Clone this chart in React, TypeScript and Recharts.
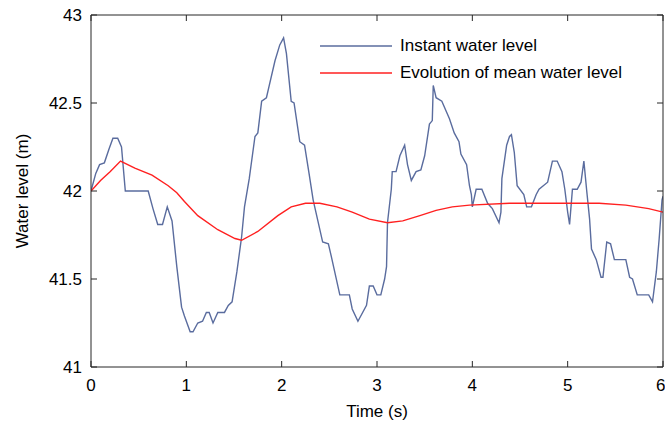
import React from 'react';
import { LineChart, Line, XAxis, YAxis, Legend, Label } from 'recharts';

// time (s) / water level (m)
const instantTime = [
  0, 0.05, 0.09, 0.14, 0.19, 0.23, 0.28, 0.32, 0.36, 0.6, 0.65, 0.7, 0.75, 0.8, 0.85, 0.9, 0.95, 0.98,
  1.04, 1.07, 1.12, 1.17, 1.21, 1.24, 1.28, 1.33, 1.4, 1.44, 1.48, 1.53, 1.58, 1.61, 1.66, 1.72, 1.75,
  1.79, 1.84, 1.87, 1.93, 1.98, 2.02, 2.05, 2.1, 2.13, 2.19, 2.24, 2.29, 2.33, 2.43, 2.49, 2.52, 2.61,
  2.71, 2.74, 2.8, 2.89, 2.92, 2.96, 3.0, 3.04, 3.08, 3.1, 3.11, 3.15, 3.16, 3.2, 3.24, 3.29, 3.32,
  3.36, 3.41, 3.46, 3.5, 3.55, 3.58, 3.59, 3.62, 3.68, 3.76, 3.81, 3.86, 3.88, 3.94, 3.97, 3.99, 4.0,
  4.04, 4.1, 4.16, 4.21, 4.28, 4.3, 4.31, 4.36, 4.39, 4.41, 4.44, 4.47, 4.54, 4.57, 4.62, 4.67, 4.7,
  4.79, 4.84, 4.89, 4.94, 4.97, 5.0, 5.02, 5.05, 5.1, 5.14, 5.17, 5.2, 5.23, 5.25, 5.3, 5.35, 5.37,
  5.41, 5.45, 5.49, 5.61, 5.65, 5.68, 5.73, 5.85, 5.89, 5.93, 5.96, 5.99, 6.0,
];
const instantLevel = [
  42.0, 42.1, 42.15, 42.16, 42.24, 42.3, 42.3, 42.25, 42.0, 42.0, 41.9, 41.81, 41.81, 41.91, 41.83, 41.57, 41.34, 41.29,
  41.2, 41.2, 41.25, 41.26, 41.31, 41.31, 41.25, 41.31, 41.31, 41.35, 41.37, 41.54, 41.74, 41.91, 42.07, 42.31, 42.33,
  42.51, 42.53, 42.6, 42.74, 42.83, 42.87, 42.78, 42.51, 42.5, 42.28, 42.26, 42.09, 41.95, 41.71, 41.7, 41.63, 41.41,
  41.41, 41.33, 41.26, 41.35, 41.46, 41.46, 41.41, 41.41, 41.5, 41.57, 41.82, 42.01, 42.11, 42.11, 42.2, 42.26, 42.15,
  42.06, 42.11, 42.12, 42.2, 42.38, 42.4, 42.6, 42.53, 42.51, 42.41, 42.33, 42.28, 42.21, 42.15, 42.03, 41.98, 41.91,
  42.01, 42.01, 41.93, 41.9, 41.82, 41.88, 42.07, 42.26, 42.31, 42.32, 42.22, 42.03, 41.98, 41.91, 41.91, 41.98, 42.01,
  42.05, 42.17, 42.17, 42.11, 42.01, 41.88, 41.81, 42.01, 42.01, 42.05, 42.17, 42.0, 41.84, 41.67, 41.61, 41.51, 41.51,
  41.71, 41.7, 41.61, 41.61, 41.51, 41.5, 41.41, 41.41, 41.37, 41.54, 41.73, 41.95, 41.97,
];

const meanTime = [
  0, 0.1, 0.2, 0.31, 0.46, 0.64, 0.81, 0.9, 0.98, 1.12, 1.33, 1.51, 1.58, 1.75, 1.96, 2.1, 2.25, 2.4,
  2.58, 2.74, 2.92, 3.11, 3.27, 3.45, 3.62, 3.79, 3.97, 4.39, 4.81, 5.33, 5.61, 5.85, 6.0,
];
const meanLevel = [
  42.0, 42.06, 42.11, 42.17, 42.13, 42.09, 42.03, 41.99, 41.94, 41.86, 41.78, 41.73, 41.72, 41.77, 41.86, 41.91, 41.93, 41.93,
  41.91, 41.88, 41.84, 41.82, 41.83, 41.86, 41.89, 41.91, 41.92, 41.93, 41.93, 41.93, 41.92, 41.9, 41.88,
];

const xTicks = [0, 1, 2, 3, 4, 5, 6];
const yTicks = [41, 41.5, 42, 42.5, 43];
const X_DOMAIN = [0, 6];
const Y_DOMAIN = [41, 43];

const instantData = instantTime.map((t, i) => ({ t, level: instantLevel[i] }));
const meanData = meanTime.map((t, i) => ({ t, level: meanLevel[i] }));

const FONT = '"Liberation Sans", Arial, sans-serif';
const AXIS = '#262626';
const BLUE = '#5a6c9e';
const RED = '#ff2020';

// chart box
const W = 665;
const H = 425;
const MARGIN = { top: 15, right: 2, bottom: 0, left: 0 };
const Y_AXIS_W = 91;
const X_AXIS_H = 58;
const PLOT_L = MARGIN.left + Y_AXIS_W;
const PLOT_R = W - MARGIN.right;
const PLOT_T = MARGIN.top;
const PLOT_B = H - MARGIN.bottom - X_AXIS_H;
const TICK_LEN = 6;

const legendItems = [
  { label: 'Instant water level', color: BLUE },
  { label: 'Evolution of mean water level', color: RED },
];

const renderLegend = () => (
  <div style={{ fontFamily: FONT, fontSize: 17, color: '#000' }}>
    {legendItems.map((item) => (
      <div key={item.label} style={{ display: 'flex', alignItems: 'center', height: 27 }}>
        <svg width={80} height={10}>
          <line x1={0} y1={5} x2={72} y2={5} stroke={item.color} strokeWidth={1.4} />
        </svg>
        <span>{item.label}</span>
      </div>
    ))}
  </div>
);

const YTitle = (props: any) => {
  const vb = props.viewBox || {};
  const cy = (vb.y || 0) + (vb.height || 0) / 2;
  return (
    <text x={22} y={cy} transform={`rotate(-90 22 ${cy})`} textAnchor="middle" dominantBaseline="central"
      fontFamily={FONT} fontSize={17} fill="#000">
      Water level (m)
    </text>
  );
};

// top and right edges of the box with inward ticks (MATLAB style frame)
const Frame = () => {
  const sx = (t: number) => PLOT_L + ((t - X_DOMAIN[0]) / (X_DOMAIN[1] - X_DOMAIN[0])) * (PLOT_R - PLOT_L);
  const sy = (v: number) => PLOT_B - ((v - Y_DOMAIN[0]) / (Y_DOMAIN[1] - Y_DOMAIN[0])) * (PLOT_B - PLOT_T);
  return (
    <svg width={W} height={H} style={{ position: 'absolute', left: 0, top: 0, pointerEvents: 'none' }}>
      <line x1={PLOT_L} y1={PLOT_T} x2={PLOT_R} y2={PLOT_T} stroke={AXIS} />
      <line x1={PLOT_R} y1={PLOT_T} x2={PLOT_R} y2={PLOT_B} stroke={AXIS} />
      {xTicks.map((t) => (
        <line key={`xt${t}`} x1={sx(t)} y1={PLOT_T} x2={sx(t)} y2={PLOT_T + TICK_LEN} stroke={AXIS} />
      ))}
      {yTicks.map((v) => (
        <line key={`yt${v}`} x1={PLOT_R} y1={sy(v)} x2={PLOT_R - TICK_LEN} y2={sy(v)} stroke={AXIS} />
      ))}
    </svg>
  );
};

export default function App() {
  const tickStyle = { fill: '#000', fontSize: 17, fontFamily: FONT };
  return (
    <div style={{ position: 'absolute', left: 0, top: 0, width: W, height: H, background: '#fff' }}>
      <LineChart width={W} height={H} margin={MARGIN}>
        <XAxis dataKey="t" type="number" domain={X_DOMAIN} ticks={xTicks} allowDataOverflow
          height={X_AXIS_H} stroke={AXIS} tickSize={-TICK_LEN} tickMargin={18} tick={tickStyle}>
          <Label value="Time (s)" position="insideBottom" offset={8} style={{ fill: '#000', fontSize: 17, fontFamily: FONT }} />
        </XAxis>
        <YAxis type="number" domain={Y_DOMAIN} ticks={yTicks} allowDataOverflow width={Y_AXIS_W}
          stroke={AXIS} tickSize={-TICK_LEN} tickMargin={15} tick={tickStyle}>
          <Label content={<YTitle />} />
        </YAxis>
        <Legend layout="vertical" align="center" verticalAlign="middle" content={renderLegend}
          wrapperStyle={{ left: 320, top: 32, width: 345 }} />
        <Line data={instantData} dataKey="level" type="linear" stroke={BLUE}
          strokeWidth={1.4} dot={false} isAnimationActive={false} />
        <Line data={meanData} dataKey="level" type="linear" stroke={RED}
          strokeWidth={1.4} dot={false} isAnimationActive={false} />
      </LineChart>
      <Frame />
    </div>
  );
}
